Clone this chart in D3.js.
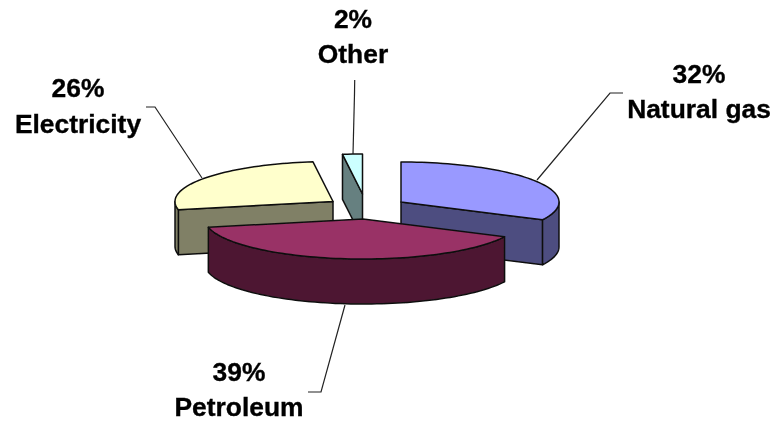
<!DOCTYPE html>
<meta charset="utf-8">
<style>
  html, body { margin: 0; background: #fff; }
  text { font-family: "Liberation Sans", Arial, sans-serif; font-weight: bold; font-size: 26.4px; fill: #000; stroke: #000; stroke-width: 0.35px; text-anchor: middle; }
</style>
<script src="https://d3js.org/d3.v7.min.js"></script>
<div id="chart_data"></div>
<script>
    // values as printed on the chart (they add up to 99)
    var categories = ["Natural gas", "Petroleum", "Electricity", "Other"];
    var shares = [32, 39, 26, 2];
    var percentLabels = ["32%", "39%", "26%", "2%"];

    var topColors = ["#9999ff", "#993366", "#ffffcc", "#ccffff"];
    var sideColors = ["#4e4e80", "#4d1933", "#808066", "#668080"];

    var width = 775, height = 421;
    var rx = 158, ry = 40, depth = 45;

    // exploded centre of each slice
    var centers = [[401, 202], [363, 219], [333, 201.5], [362.5, 194]];

    // label centre x and the two baselines
    var labelPos = [[699, 83, 118], [239, 381, 416], [78, 97, 133], [353, 28, 63]];

    // leader lines, label end first
    var leaders = [
      [[623, 93], [610, 93], [537, 180]],
      [[308, 392], [321, 392], [345, 305]],
      [[146, 107], [155, 107], [202, 178]],
      [[354.7, 80], [354.5, 94], [353, 154]]
    ];

    var svg = d3.select("#chart_data").append("svg")
        .attr("width", width)
        .attr("height", height)
        .style("display", "block");

    // the reference is a soft upscaled image
    svg.append("filter").attr("id", "soft")
      .append("feGaussianBlur").attr("stdDeviation", 0.45);

    var chart = svg.append("g").attr("filter", "url(#soft)");

    var arcs = d3.pie().sort(null)(shares);
    var line = d3.line();

    // point on the flattened rim, angle clockwise from 12 o'clock
    function rim(c, a, dy) {
      return [c[0] + rx * Math.sin(a), c[1] - ry * Math.cos(a) + (dy || 0)];
    }

    function rimPoints(c, a0, a1, dy) {
      var n = Math.max(2, Math.ceil((a1 - a0) * 30));
      return d3.range(n + 1).map(function(i) {
        return rim(c, a0 + (a1 - a0) * i / n, dy);
      });
    }

    function shape(pts, color) {
      chart.append("path")
        .attr("d", line(pts) + "Z")
        .attr("fill", color)
        .attr("stroke", "#111")
        .attr("stroke-width", 1.5)
        .attr("stroke-linejoin", "round");
    }

    // flat wall between the centre and the rim at angle a
    function cutFace(c, a, color) {
      var p = rim(c, a);
      shape([c, p, [p[0], p[1] + depth], [c[0], c[1] + depth]], color);
    }

    function drawSlice(i) {
      var d = arcs[i], c = centers[i], a0 = d.startAngle, a1 = d.endAngle;
      var side = sideColors[i];

      // cut faces that look towards the viewer
      if (a0 > Math.PI) cutFace(c, a0, side);
      if (a1 > Math.PI / 2 && a1 < Math.PI) cutFace(c, a1, side);

      // outer wall, only the part on the near half of the rim
      var w0 = Math.max(a0, Math.PI / 2), w1 = Math.min(a1, 3 * Math.PI / 2);
      if (w1 > w0) {
        shape(rimPoints(c, w0, w1).concat(rimPoints(c, w0, w1, depth).reverse()), side);
      }

      // top
      shape([c].concat(rimPoints(c, a0, a1)), topColors[i]);
    }

    // back to front
    [3, 2, 0, 1].forEach(drawSlice);

    leaders.forEach(function(l) {
      chart.append("path")
        .attr("d", line(l))
        .attr("fill", "none")
        .attr("stroke", "#222")
        .attr("stroke-width", 1.2);
    });

    categories.forEach(function(name, i) {
      var p = labelPos[i];
      chart.append("text").attr("x", p[0]).attr("y", p[1]).text(percentLabels[i]);
      chart.append("text").attr("x", p[0]).attr("y", p[2]).text(name);
    });
</script>
